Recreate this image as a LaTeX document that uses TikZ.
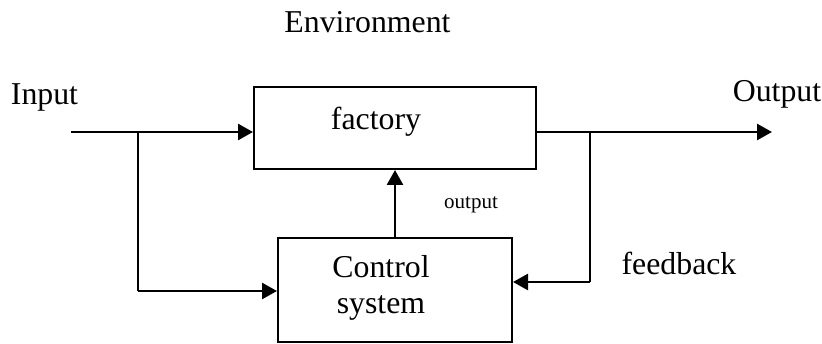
\documentclass[tikz,border=0pt]{standalone}
\usepackage{fontspec}
\setmainfont{Liberation Serif}
\usetikzlibrary{arrows.meta}
\begin{document}
\begin{tikzpicture}[x=1pt,y=-1pt,
  blockbox/.style={draw=black,line width=2pt,inner sep=0pt},
  conn/.style={line width=2.6pt,-{Triangle[length=15pt,width=16pt]}},
  wire/.style={line width=2.6pt},
  bigtext/.style={font=\fontsize{31.8}{36}\selectfont,inner sep=0pt},
  smalltext/.style={font=\fontsize{21}{24}\selectfont,inner sep=0pt}]
\useasboundingbox (0,0) rectangle (822,344);
\node[blockbox,minimum width=282pt,minimum height=81.5pt] (factory) at (395,128.25) {};
\node[blockbox,minimum width=234pt,minimum height=104pt] (ctrl) at (395,290) {};
\node[bigtext,anchor=base] (ftext) at (376,130) {factory};
\node[bigtext,align=center] (ctext) at (381,287.5) {Control\\system};
\node[bigtext,anchor=base] (env) at (367.5,33) {Environment};
\node[bigtext,anchor=base] (inlbl) at (44.5,105) {Input};
\node[bigtext,anchor=base] (outlbl) at (777,101.5) {Output};
\node[bigtext,anchor=base] (fb) at (679,275) {feedback};
\node[smalltext,anchor=base] (olbl) at (471,209) {output};
\coordinate (in) at (71,132);
\coordinate (b1) at (138,132);
\coordinate (b1d) at (138,291);
\coordinate (out) at (772,132);
\coordinate (b2) at (590,132);
\coordinate (b2d) at (590,282);
\draw[conn] (in) -- (in -| factory.west);
\draw[wire] (b1) -- (b1d);
\draw[conn] (b1d) -- (b1d -| ctrl.west);
\draw[conn] (out -| factory.east) -- (out);
\draw[wire] (b2) -- (b2d);
\draw[conn] (b2d) -- (b2d -| ctrl.east);
\draw[conn] (ctrl.north) -- (ctrl.north |- factory.south);
\end{tikzpicture}
\end{document}
